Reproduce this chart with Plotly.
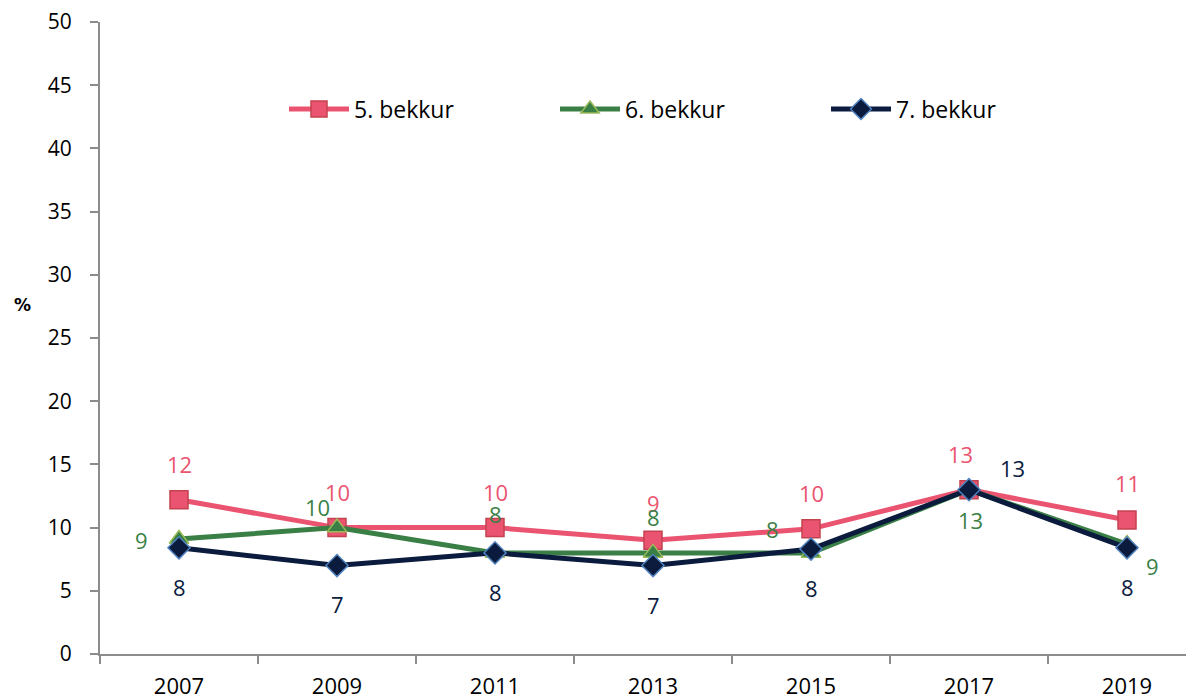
import plotly.graph_objects as go

years = ["2007", "2009", "2011", "2013", "2015", "2017", "2019"]
g5 = [12.2, 10.0, 10.0, 9.0, 9.9, 13.0, 10.6]
g6 = [9.1, 10.0, 8.0, 8.0, 8.0, 13.0, 8.7]
g7 = [8.4, 7.0, 8.0, 7.0, 8.3, 13.0, 8.4]
names = ["5. bekkur", "6. bekkur", "7. bekkur"]

# label offsets (px) per point: (xshift, yshift)
off5 = [(0, 36), (0, 36), (0, 36), (0, 37), (0, 36), (-9, 36), (0, 37)]
off6 = [(-38, -1), (-20, 21), (0, 39), (0, 36), (-39, 24), (1, -30), (25, -22)]
off7 = [(0, -39), (0, -38), (0, -39), (0, -39), (0, -39), (43, 22), (0, -39)]

line_cols = ["#ea5470", "#3a7f45", "#0b1b3d"]
fill_cols = ["#ea5470", "#3a7f45", "#0b1b3d"]
edge_cols = ["#c4424f", "#9bbb59", "#4f81bd"]
symbols = ["square", "triangle-up", "diamond"]
msizes = [18, 17, 17]

W, H = 1186, 691
L, R, T, B = 92, 0, 14, 45
PW, PH = W - L - R, H - T - B
FONT = "Open Sans, sans-serif"

fig = go.Figure()
for vals, nm, lc, fc, ec, sym, ms in zip([g5, g6, g7], names, line_cols, fill_cols, edge_cols, symbols, msizes):
    fig.add_trace(go.Scatter(
        x=years, y=vals, name=nm, mode="lines+markers",
        line=dict(color=lc, width=5),
        marker=dict(symbol=sym, size=ms, color=fc, line=dict(color=ec, width=1.5)),
        hoverinfo="skip",
    ))

annotations = []
for vals, offs, col in zip([g5, g6, g7], [off5, off6, off7], line_cols):
    for i, (v, (dx, dy)) in enumerate(zip(vals, offs)):
        annotations.append(dict(
            x=i, y=v, xref="x", yref="y", text=f"{v:.0f}", showarrow=False,
            xshift=dx, yshift=dy, xanchor="center", yanchor="middle",
            font=dict(family=FONT, size=22, color=col),
        ))

annotations.append(dict(
    xref="paper", yref="paper", x=(22 - 100) / PW, y=(654 - 305) / PH,
    text="<b>%</b>", showarrow=False, xanchor="center", yanchor="middle",
    font=dict(family="DejaVu Sans, sans-serif", size=17, color="#000"),
))

fig.update_layout(
    width=W, height=H,
    margin=dict(l=L, r=R, t=T, b=B, autoexpand=False),
    paper_bgcolor="white", plot_bgcolor="white",
    showlegend=True,
    legend=dict(
        orientation="h", x=(284 - 100) / PW, y=(654 - 109) / PH, xanchor="left", yanchor="middle",
        font=dict(family=FONT, size=23, color="#000"),
        entrywidth=196, entrywidthmode="pixels", itemwidth=60,
        bgcolor="rgba(0,0,0,0)",
    ),
    xaxis=dict(
        type="category", range=[-0.5, 6.424],
        showline=True, linecolor="#8c8c8c", linewidth=2,
        ticks="outside", tickson="boundaries", ticklen=8, tickcolor="#8c8c8c", tickwidth=2,
        ticklabelstandoff=12, ticklabeloverflow="allow",
        showgrid=False, zeroline=False,
        tickfont=dict(family=FONT, size=22, color="#000"),
    ),
    yaxis=dict(
        range=[0, 50], dtick=5, tick0=0,
        showline=True, linecolor="#8c8c8c", linewidth=2,
        ticks="outside", ticklen=8, tickcolor="#8c8c8c", tickwidth=2,
        ticklabelstandoff=14, ticklabeloverflow="allow",
        showgrid=False, zeroline=False,
        tickfont=dict(family=FONT, size=21, color="#000"),
    ),
    annotations=annotations,
)

fig.write_html("out.html")
